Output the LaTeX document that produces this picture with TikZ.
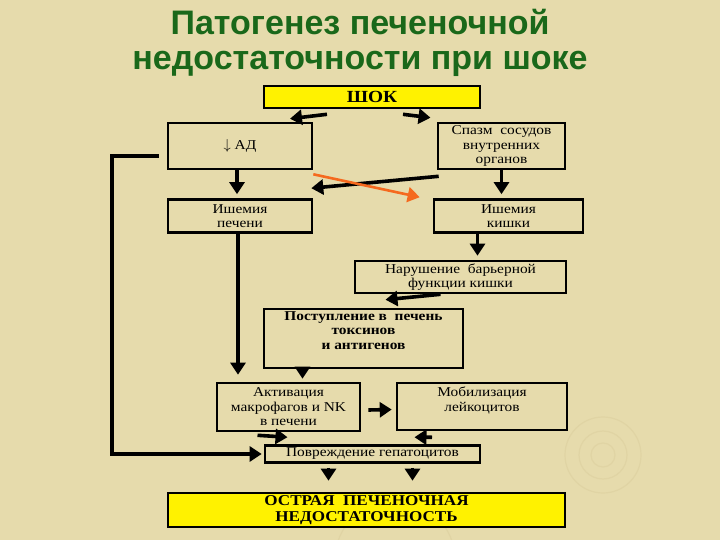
\documentclass[tikz,border=0pt]{standalone}
\usepackage{fontspec}
\setmainfont{Liberation Serif}
\newfontfamily\boxfont[FakeStretch=1.14]{Liberation Serif}
\newfontfamily\titlefont{Liberation Sans}
\usetikzlibrary{arrows.meta}

\definecolor{slidebg}{RGB}{230,219,172}
\definecolor{ringcol}{RGB}{224,212,164}
\definecolor{titlegreen}{RGB}{26,104,26}
\definecolor{arrowred}{RGB}{245,105,30}

\tikzset{BoxStyle/.style =
	{shape = rectangle,
		draw = black,
		line width = 2.6pt,
		align = center,
		inner sep = 1pt,
		font = \boxfont\fontsize{13.5}{14.5}\selectfont},
	YellowBox/.style = {BoxStyle, fill = yellow, font = \boxfont\fontsize{15}{15.5}\selectfont\bfseries},
	EdgeStyle/.style = {line width = 3.6pt, -{Triangle[length=12pt,width=15pt]}}}

\begin{document}
\begin{tikzpicture}[x=1pt,y=-1pt]
\fill[slidebg] (0,0) rectangle (720,540);
\useasboundingbox (0,0) rectangle (720,540);
% faint rings of the slide background
\foreach \r in {12,24,38} {\draw[ringcol, line width=1.2pt] (603,455) circle (\r);}
\draw[ringcol, line width=1.2pt] (395,560) circle (60);

\node[font=\titlefont\fontsize{34}{35}\selectfont\bfseries, text=titlegreen, align=center] (title) at (360,43)
	{Патогенез печеночной\\недостаточности при шоке};

\node[YellowBox, minimum width=216pt, minimum height=22pt, font=\boxfont\fontsize{17}{17}\selectfont\bfseries] (shok) at (372,97) {ШОК};
\node[BoxStyle, minimum width=144pt, minimum height=46pt] (ad) at (240,146) {$\downarrow$ АД};
\node[BoxStyle, minimum width=127pt, minimum height=46pt] (spazm) at (501.5,146) {Спазм\ \ сосудов\\внутренних\\органов};
\node[BoxStyle, minimum width=144pt, minimum height=33pt] (ishp) at (240,216) {Ишемия\\печени};
\node[BoxStyle, minimum width=149pt, minimum height=33pt] (ishk) at (508.5,216) {Ишемия\\кишки};
\node[BoxStyle, minimum width=211pt, minimum height=32pt] (narush) at (460.5,277) {Нарушение\ \ барьерной\\функции кишки};
\node[BoxStyle, minimum width=199pt, minimum height=59pt, font=\boxfont\fontsize{13.5}{14.5}\selectfont\bfseries] (postup) at (363.5,338.5)
	{Поступление в\ \ печень\\токсинов\\и антигенов\\[2pt]\mbox{}};
\node[BoxStyle, minimum width=143pt, minimum height=48pt] (aktiv) at (288.5,407) {Активация\\макрофагов и NK\\в печени};
\node[BoxStyle, minimum width=170pt, minimum height=47pt] (mobil) at (482,406.5) {Мобилизация\\лейкоцитов\\\mbox{}};
\node[BoxStyle, minimum width=215pt, minimum height=17pt] (povr) at (372.5,454) {Повреждение гепатоцитов};
\node[YellowBox, minimum width=397pt, minimum height=34pt] (opn) at (366.5,510)
	{ОСТРАЯ\ \ ПЕЧЕНОЧНАЯ\\НЕДОСТАТОЧНОСТЬ};

\draw[EdgeStyle] ([xshift=-45pt,yshift=-5pt]shok.south) -- ([xshift=50pt,yshift=3pt]ad.north);
\draw[EdgeStyle] ([xshift=31pt,yshift=-5pt]shok.south) -- ([xshift=-71pt,yshift=4pt]spazm.north);
\draw[EdgeStyle] ([xshift=-3pt]ad.south) -- ([xshift=-3pt,yshift=4pt]ishp.north);
\draw[EdgeStyle] (spazm.south) -- ([yshift=4pt]spazm.south |- ishk.north);
\draw[EdgeStyle] ([xshift=2pt,yshift=-6pt]spazm.south west) -- ([xshift=-2pt,yshift=10pt]ishp.north east);
\draw[EdgeStyle, arrowred, line width=2.6pt] ([yshift=-4pt]ad.south east) -- ([xshift=-13pt,yshift=1pt]ishk.north west);
\draw[EdgeStyle] ([xshift=-2pt]ishp.south) -- ([xshift=-2pt,yshift=7pt]ishp.south |- aktiv.north);
\draw[EdgeStyle] ([xshift=-31pt]ishk.south) -- ([xshift=-31pt,yshift=4pt]ishk.south |- narush.north);
\draw[EdgeStyle] ([xshift=-20pt]narush.south) -- ([xshift=22pt,yshift=8pt]postup.north);
\draw[EdgeStyle] ([xshift=-61pt]postup.south) -- ([xshift=-61pt,yshift=3pt]postup.south |- aktiv.north);
\draw[EdgeStyle] ([xshift=7pt,yshift=-3pt]aktiv.east) -- ([xshift=-4pt,yshift=-3pt]mobil.west);
\draw[EdgeStyle] ([xshift=-31pt,yshift=-3pt]aktiv.south) -- ([xshift=-85pt,yshift=7pt]povr.north);
\draw[EdgeStyle] ([xshift=-50pt,yshift=-6pt]mobil.south) -- ([xshift=42pt,yshift=7pt]povr.north);
\draw[EdgeStyle] ([xshift=-8pt,yshift=-10pt]ad.west) -- ++(-47,0) |- ([xshift=-2pt]povr.west);
\draw[EdgeStyle] ([xshift=-44pt,yshift=-4pt]povr.south) -- ([xshift=-44pt,yshift=11pt]povr.south |- opn.north);
\draw[EdgeStyle] ([xshift=40pt,yshift=-4pt]povr.south) -- ([xshift=40pt,yshift=11pt]povr.south |- opn.north);
\end{tikzpicture}
\end{document}
